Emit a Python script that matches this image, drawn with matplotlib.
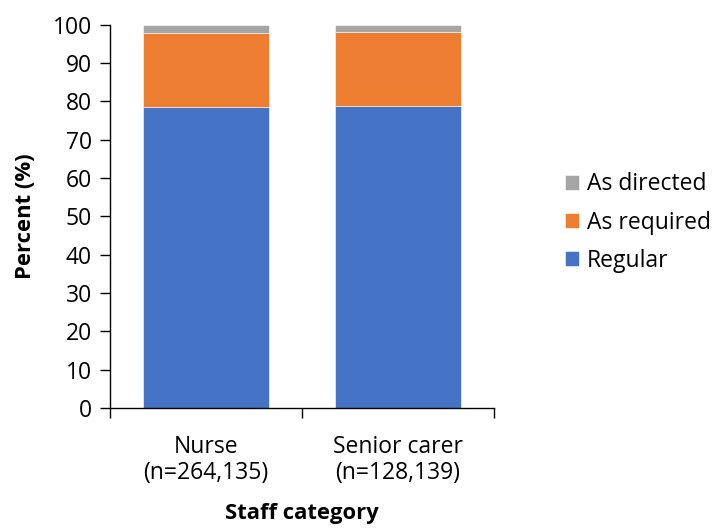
import matplotlib
matplotlib.use("Agg")
import matplotlib.pyplot as plt
import numpy as np

categories = ["Nurse\n(n=264,135)", "Senior carer\n(n=128,139)"]
regular = [78.6, 78.9]
as_required = [19.2, 19.3]
as_directed = [2.2, 1.8]
yticks = list(range(0, 101, 10))

plt.rcParams["font.family"] = ["Open Sans", "DejaVu Sans"]
FS = 16.5
FS_LABEL = 15.8

fig = plt.figure(figsize=(7.14, 5.28), dpi=100)
ax = fig.add_axes([0.154, 0.227, 0.538, 0.726])

x = np.arange(len(categories))
w = 0.66
reg = np.array(regular)
req = np.array(as_required)
dirc = np.array(as_directed)
b1 = ax.bar(x, reg, w, color="#4472C4", edgecolor="white", linewidth=0.4, label="Regular")
b2 = ax.bar(x, req, w, bottom=reg, color="#ED7D31", edgecolor="white", linewidth=0.4, label="As required")
b3 = ax.bar(x, dirc, w, bottom=reg + req, color="#A5A5A5", edgecolor="white", linewidth=0.4, label="As directed")

ax.set_xlim(-0.5, len(categories) - 0.5)
ax.set_ylim(0, 100)
ax.set_yticks(yticks)
ax.tick_params(axis="y", labelsize=FS, length=7, width=1, direction="out", pad=6)
ax.set_xticks(x)
ax.set_xticklabels(categories, fontsize=FS, linespacing=1.12)
ax.tick_params(axis="x", which="major", length=0, pad=19)
ax.set_xticks(np.arange(-0.5, len(categories), 1.0), minor=True)
ax.tick_params(axis="x", which="minor", length=7, width=1, direction="out")

for s in ["top", "right"]:
    ax.spines[s].set_visible(False)
for s in ["left", "bottom"]:
    ax.spines[s].set_linewidth(1)
    ax.spines[s].set_color("black")

ax.set_ylabel("Percent (%)", fontsize=FS_LABEL, fontweight="bold", labelpad=12)
ax.set_xlabel("Staff category", fontsize=FS_LABEL, fontweight="bold", labelpad=13)

handles = [b3, b2, b1]
ax.legend(handles, [h.get_label() for h in handles], loc="center left",
          bbox_to_anchor=(1.185, 0.484), frameon=False, fontsize=FS,
          handlelength=0.6, handleheight=0.6, handletextpad=0.35, labelspacing=0.62,
          borderpad=0, borderaxespad=0)

fig.savefig("out.png", dpi=100)
